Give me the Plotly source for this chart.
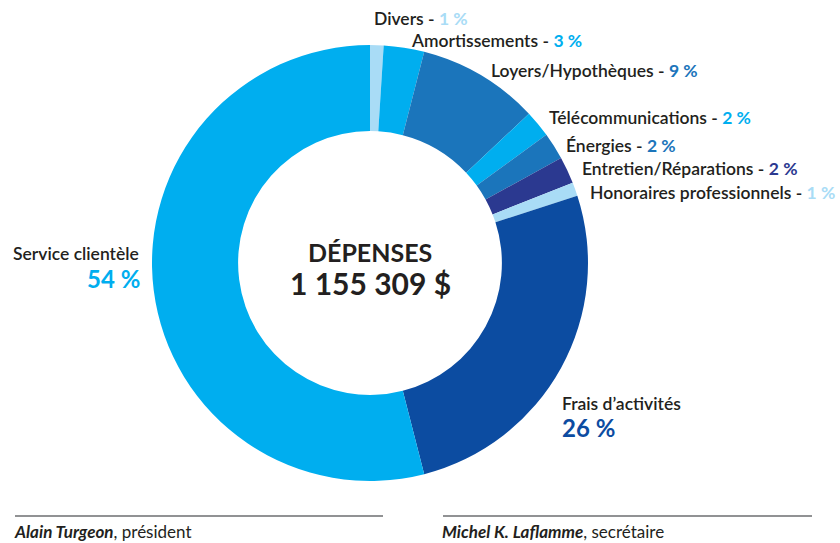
import plotly.graph_objects as go

categories = ["Divers", "Amortissements", "Loyers/Hypothèques", "Télécommunications",
              "Énergies", "Entretien/Réparations", "Honoraires professionnels",
              "Frais d’activités", "Service clientèle"]
values = [1, 3, 9, 2, 2, 2, 1, 26, 54]
colors = ["#a9dcf6", "#00aeef", "#1b75bb", "#00aeef", "#1b75bb", "#2b3990",
          "#a9dcf6", "#0c4ca1", "#00aeef"]
pct_labels = [f"{v} %" for v in values]
total_title = "DÉPENSES"
total_value = "1 155 309 $"
signatures = [("Alain Turgeon", "président"), ("Michel K. Laflamme", "secrétaire")]

W, H = 840, 543
DARK = "#231f20"
FONT = "Lato"
LBL = 17.5

def px(x):
    return x / W

def py(y):
    return 1 - y / H

fig = go.Figure()
fig.add_trace(go.Pie(
    labels=categories, values=values, sort=False, direction="clockwise",
    rotation=0, hole=0.605, textinfo="none", hoverinfo="label+percent",
    marker=dict(colors=colors, line=dict(width=0)),
    domain=dict(x=[px(152), px(588)], y=[py(481), py(45)]),
    showlegend=False,
))

ann = []
small_pos = [(0, 372, 18), (1, 409, 40), (2, 489, 70), (3, 547, 117),
             (4, 564, 145), (5, 580, 168), (6, 588, 192)]
for i, x, y in small_pos:
    ann.append(dict(
        x=px(x), y=py(y), xref="paper", yref="paper", xanchor="left", yanchor="middle",
        showarrow=False,
        text=f"{categories[i]} - <b><span style='color:{colors[i]}'>{pct_labels[i]}</span></b>",
        font=dict(family=FONT, size=LBL, color=DARK, weight=600),
    ))

ann.append(dict(x=px(141), y=py(253), xref="paper", yref="paper", xanchor="right",
                yanchor="middle", showarrow=False, text=categories[8],
                font=dict(family=FONT, size=LBL, color=DARK, weight=600)))
ann.append(dict(x=px(142), y=py(278), xref="paper", yref="paper", xanchor="right",
                yanchor="middle", showarrow=False, text=f"<b>{pct_labels[8]}</b>",
                font=dict(family=FONT, size=24, color=colors[8])))
ann.append(dict(x=px(560), y=py(403), xref="paper", yref="paper", xanchor="left",
                yanchor="middle", showarrow=False, text=categories[7],
                font=dict(family=FONT, size=LBL, color=DARK, weight=600)))
ann.append(dict(x=px(560), y=py(427), xref="paper", yref="paper", xanchor="left",
                yanchor="middle", showarrow=False, text=f"<b>{pct_labels[7]}</b>",
                font=dict(family=FONT, size=24, color=colors[7])))
ann.append(dict(x=px(370), y=py(252), xref="paper", yref="paper", xanchor="center",
                yanchor="middle", showarrow=False, text=f"<b>{total_title}</b>",
                font=dict(family=FONT, size=25, color=DARK, weight=900)))
ann.append(dict(x=px(370), y=py(283), xref="paper", yref="paper", xanchor="center",
                yanchor="middle", showarrow=False, text=f"<b>{total_value}</b>",
                font=dict(family=FONT, size=30, color=DARK, weight=900)))
for (name, role), x in zip(signatures, [13, 441]):
    ann.append(dict(x=px(x), y=py(531), xref="paper", yref="paper", xanchor="left",
                    yanchor="middle", showarrow=False, borderpad=0,
                    text=f"<b><i>{name}</i></b>, {role}",
                    font=dict(family=FONT, size=17, color=DARK)))

shapes = [
    dict(type="line", xref="paper", yref="paper", x0=px(15), x1=px(383), y0=py(516), y1=py(516),
         line=dict(color="#6d6e71", width=1.3)),
    dict(type="line", xref="paper", yref="paper", x0=px(443), x1=px(812), y0=py(516), y1=py(516),
         line=dict(color="#6d6e71", width=1.3)),
]

fig.update_layout(
    width=W, height=H, margin=dict(l=0, r=0, t=0, b=0),
    paper_bgcolor="white", plot_bgcolor="white",
    annotations=ann, shapes=shapes,
)
fig.write_html("out.html", config={"displayModeBar": False},
               post_script="document.body.style.margin='0';")
